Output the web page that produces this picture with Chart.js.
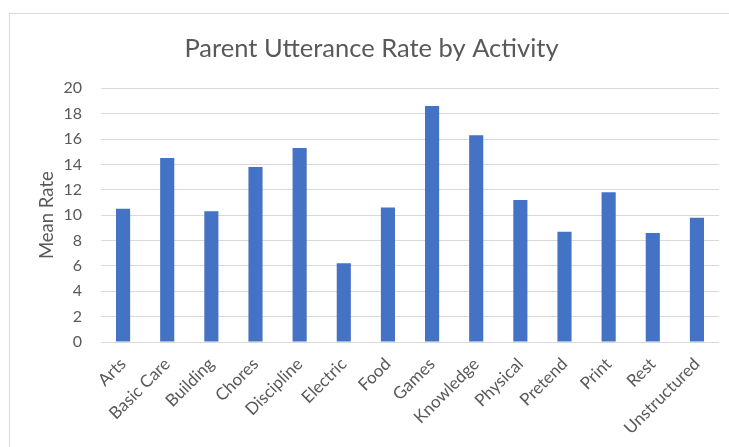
<!DOCTYPE html>
<html>
<head>
<meta charset="utf-8">
<script src="https://cdn.jsdelivr.net/npm/chart.js@4/dist/chart.umd.min.js"></script>
<style>
  html, body { margin: 0; padding: 0; background: #ffffff; }
  #wrap { width: 729px; height: 447px; position: relative; }
</style>
</head>
<body>
<div id="wrap"><canvas id="chart" width="729" height="447"></canvas></div>
<script>
// Mean parent utterance rate for each activity type
const activities = ['Arts', 'Basic Care', 'Building', 'Chores', 'Discipline', 'Electric', 'Food',
  'Games', 'Knowledge', 'Physical', 'Pretend', 'Print', 'Rest', 'Unstructured'];
const meanRates = [10.5, 14.5, 10.3, 13.8, 15.3, 6.2, 10.6, 18.6, 16.3, 11.2, 8.7, 11.8, 8.6, 9.8];
const yTicks = [0, 2, 4, 6, 8, 10, 12, 14, 16, 18, 20];
const chartTitle = 'Parent Utterance Rate by Activity';

const FONT = 'Lato, "Open Sans", sans-serif';
const TEXT = '#595959';
const GRID = '#d9d9d9';

// Light frame around the chart, as in an embedded office chart
const framePlugin = {
  id: 'frame',
  beforeDraw(chart) {
    const ctx = chart.ctx;
    ctx.save();
    ctx.fillStyle = '#ffffff';
    ctx.fillRect(0, 0, chart.width, chart.height);
    ctx.strokeStyle = GRID;
    ctx.lineWidth = 1;
    ctx.strokeRect(9.5, 13.5, chart.width + 10, chart.height + 10);
    ctx.restore();
  }
};

// Title centred over the framed chart box rather than the canvas
const titlePlugin = {
  id: 'boxTitle',
  afterDraw(chart) {
    const ctx = chart.ctx;
    ctx.save();
    ctx.fillStyle = TEXT;
    ctx.font = '25.5px ' + FONT;
    ctx.textAlign = 'center';
    ctx.textBaseline = 'alphabetic';
    ctx.fillText(chartTitle, 371.5, 57);
    ctx.restore();
  }
};

new Chart(document.getElementById('chart'), {
  type: 'bar',
  data: {
    labels: activities,
    datasets: [{
      label: 'Mean Rate',
      data: meanRates,
      backgroundColor: '#4472C4',
      borderWidth: 0,
      categoryPercentage: 1,
      barPercentage: 0.32
    }]
  },
  options: {
    responsive: false,
    animation: false,
    layout: { padding: { left: 10, right: 10, top: 88.3, bottom: 0 } },
    plugins: {
      legend: { display: false },
      tooltip: { enabled: false },
      title: { display: false }
    },
    scales: {
      x: {
        grid: { display: false },
        border: { display: false },
        ticks: {
          color: TEXT,
          font: { family: FONT, size: 17 },
          minRotation: 45,
          maxRotation: 45,
          autoSkip: false,
          padding: 4
        },
        afterFit(scale) { scale.height = 105; }
      },
      y: {
        min: 0,
        max: 20,
        afterBuildTicks(scale) { scale.ticks = yTicks.map(v => ({ value: v })); },
        grid: { color: GRID, drawTicks: false },
        border: { display: false },
        ticks: {
          color: TEXT,
          font: { family: FONT, size: 16 },
          padding: 19
        },
        title: {
          display: true,
          text: 'Mean Rate',
          color: TEXT,
          font: { family: FONT, size: 18.5 },
          padding: { top: 26, bottom: 0 }
        },
        afterFit(scale) { scale.width = 91; }
      }
    }
  },
  plugins: [framePlugin, titlePlugin]
});
</script>
</body>
</html>
